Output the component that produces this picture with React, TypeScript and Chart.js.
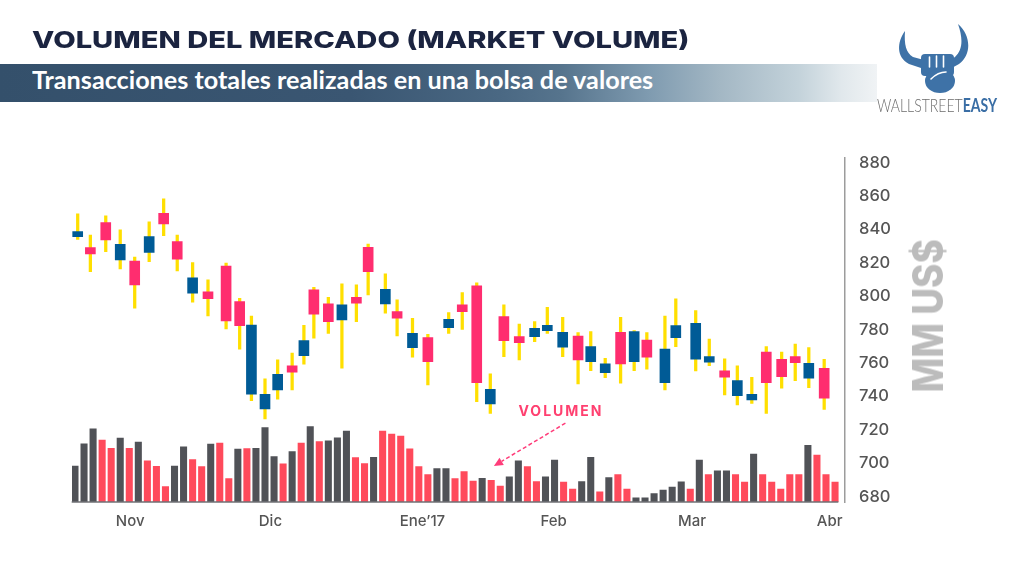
import React, { useEffect, useLayoutEffect, useRef } from 'react';
import { Chart, registerables } from 'chart.js';

Chart.register(...registerables);

// ---------- DATA ----------
const monthLabels = ['Nov', 'Dic', 'Ene’17', 'Feb', 'Mar', 'Abr'];
const monthTickPos = [6.1, 21.6, 38.4, 52.9, 68.2, 83.4];
const priceTicks = [680, 700, 720, 740, 760, 780, 800, 820, 840, 860, 880];

const candleX = [0.3, 1.7, 3.4, 5.0, 6.6, 8.2, 9.8, 11.3, 13.0, 14.7,
  16.7, 18.2, 19.5, 21.0, 22.4, 24.0, 25.3, 26.4, 28.0, 29.5,
  31.1, 32.4, 34.3, 35.6, 37.3, 39.0, 41.3, 42.8, 44.4, 45.9,
  47.4, 49.1, 50.8, 52.2, 53.9, 55.6, 57.0, 58.6, 60.3, 61.8,
  63.2, 65.2, 66.4, 68.6, 70.1, 71.8, 73.2, 74.8, 76.4, 78.1,
  79.6, 81.1, 82.8];
const candleOpen = [835.7, 829.1, 844.1, 821.7, 821.1, 826.3, 849.7, 832.7, 801.8, 802.6,
  818.1, 796.8, 741.3, 732.5, 743.9, 758.4, 764.4, 803.8, 795.4, 785.8,
  799.4, 829.3, 795.4, 790.8, 769.2, 775.2, 781.2, 794.8, 806.2, 735.5,
  787.8, 775.8, 775.8, 779.4, 769.5, 776.2, 760.8, 754.3, 778.4, 760.8,
  773.8, 748.3, 775.2, 762.3, 760.5, 755.3, 740.5, 737.9, 766.5, 762.3,
  763.8, 750.9, 756.9];
const candleClose = [838.7, 825.3, 833.7, 831.1, 806.8, 835.7, 843.3, 822.2, 811.1, 798.6,
  785.2, 782.4, 782.8, 741.3, 753.3, 754.5, 773.4, 789.2, 784.8, 794.8,
  795.8, 814.7, 804.2, 786.8, 777.8, 760.8, 786.2, 790.8, 748.3, 744.3,
  773.4, 772.2, 780.8, 782.6, 778.4, 761.9, 769.8, 759.5, 759.5, 778.8,
  763.5, 768.3, 782.4, 783.8, 763.8, 751.5, 749.5, 741.3, 748.3, 751.9,
  760.2, 759.9, 738.9];
const candleHigh = [849.3, 836.7, 848.1, 839.7, 823.4, 844.5, 858.3, 836.7, 820.1, 809.8,
  819.8, 798.8, 788.2, 750.5, 761.9, 765.9, 782.6, 805.4, 799.4, 807.4,
  806.8, 831.3, 813.4, 797.8, 786.8, 777.2, 790.2, 802.2, 808.1, 753.5,
  794.8, 783.4, 784.8, 793.3, 787.4, 778.2, 778.8, 762.9, 787.4, 779.5,
  778.2, 788.2, 798.4, 791.4, 774.3, 762.5, 758.3, 751.5, 769.8, 766.5,
  771.4, 769.2, 762.3];
const candleLow = [834.1, 814.7, 826.7, 816.3, 792.8, 820.7, 836.3, 815.1, 796.4, 788.2,
  780.4, 768.3, 737.5, 726.5, 738.3, 743.9, 759.3, 774.9, 777.8, 756.9,
  784.8, 800.8, 789.8, 776.2, 763.5, 746.9, 777.8, 780.2, 736.9, 729.9,
  763.8, 761.9, 772.8, 777.8, 763.8, 747.5, 755.4, 751.3, 747.9, 755.4,
  756.3, 743.9, 769.8, 755.3, 758.4, 740.9, 734.9, 735.9, 729.9, 744.9,
  749.5, 745.3, 732.3];

const volume = [12.0, 19.4, 24.4, 20.6, 17.9, 21.3, 17.9, 20.0, 13.7, 11.9,
  5.1, 12.0, 18.4, 14.1, 11.8, 19.3, 19.6, 7.8, 17.6, 17.8,
  17.9, 24.8, 15.1, 12.7, 16.8, 19.6, 25.1, 20.1, 20.4, 21.4,
  23.6, 14.8, 12.8, 14.9, 23.6, 22.6, 22.0, 17.7, 11.8, 9.1,
  11.1, 11.1, 7.8, 10.1, 7.0, 7.9, 7.2, 5.3, 8.4, 13.7,
  11.8, 6.8, 8.4, 14.0, 6.6, 4.3, 6.8, 14.9, 3.4, 8.1,
  9.1, 4.3, 1.4, 1.4, 2.8, 4.0, 5.0, 6.7, 4.3, 14.0,
  9.1, 10.4, 10.4, 9.1, 6.6, 16.0, 9.1, 6.6, 4.3, 9.1,
  9.1, 18.9, 15.6, 9.1, 6.6];
// g = grey bar, r = red bar
const volumeSide = ('gggrrgrgrr' + 'rggrrgrrgr' + 'gggrgrgrgg' + 'grrgrrrrrr' + 'ggrrrgrrgg' +
  'rrggrrggrg' + 'rrggggggrg' + 'rggrrgrrrr' + 'rgrrr').split('');

const volumenLabel = { text: 'VOLUMEN', x: 53.6, y: 730.9 };
const volumenArrow = { fromX: 54.2, fromY: 724.0, toX: 46.3, toY: 698.4 };

// ---------- STYLE ----------
const UP = '#005b96';
const DOWN = '#ff2d6f';
const WICK = '#ffdf00';
const VOL_GREY = '#505257';
const VOL_RED = '#ff4a5b';

function FitText({ width, style, children }: { width: number; style: React.CSSProperties; children: React.ReactNode }) {
  const ref = useRef<HTMLSpanElement>(null);
  useLayoutEffect(() => {
    const fit = () => {
      const el = ref.current;
      if (!el) return;
      el.style.transform = 'none';
      const w = el.offsetWidth;
      if (w > 0) el.style.transform = `scaleX(${width / w})`;
    };
    fit();
    if ((document as any).fonts && (document as any).fonts.ready) (document as any).fonts.ready.then(fit);
  }, [width]);
  return (
    <div style={{ width, whiteSpace: 'nowrap', lineHeight: 1 }}>
      <span ref={ref} style={{ display: 'inline-block', transformOrigin: '0 0', whiteSpace: 'nowrap', lineHeight: 1, ...style }}>
        {children}
      </span>
    </div>
  );
}

const overlayPlugin = {
  id: 'overlay',
  afterDatasetsDraw(chart: any) {
    const { ctx, chartArea } = chart;
    const x = chart.scales.x;
    const y = chart.scales.y;
    ctx.save();
    // x baseline under the volume bars
    const x0 = x.getPixelForValue(0) - 3.3;
    const x1 = x.getPixelForValue(volume.length - 1) + 3.3;
    ctx.strokeStyle = '#6f7074';
    ctx.lineWidth = 1.4;
    ctx.beginPath();
    ctx.moveTo(x0, chartArea.bottom);
    ctx.lineTo(x1, chartArea.bottom);
    ctx.stroke();

    // VOLUMEN label
    ctx.font = '700 14px Inter, "Open Sans", sans-serif';
    (ctx as any).letterSpacing = '2px';
    ctx.fillStyle = '#ff4070';
    ctx.textAlign = 'center';
    ctx.textBaseline = 'middle';
    ctx.fillText(volumenLabel.text, x.getPixelForValue(volumenLabel.x) + 1, y.getPixelForValue(volumenLabel.y));
    (ctx as any).letterSpacing = '0px';

    // dashed arrow
    const sx = x.getPixelForValue(volumenArrow.fromX);
    const sy = y.getPixelForValue(volumenArrow.fromY);
    const ex = x.getPixelForValue(volumenArrow.toX);
    const ey = y.getPixelForValue(volumenArrow.toY);
    const ang = Math.atan2(ey - sy, ex - sx);
    const headLen = 9;
    const bx = ex - Math.cos(ang) * headLen;
    const by = ey - Math.sin(ang) * headLen;
    ctx.strokeStyle = '#ff3d7a';
    ctx.fillStyle = '#ff3d7a';
    ctx.lineWidth = 1.5;
    ctx.setLineDash([4, 2.5]);
    ctx.beginPath();
    ctx.moveTo(sx, sy);
    ctx.lineTo(bx, by);
    ctx.stroke();
    ctx.setLineDash([]);
    const hw = 4.2;
    ctx.beginPath();
    ctx.moveTo(ex, ey);
    ctx.lineTo(bx + Math.sin(ang) * hw, by - Math.cos(ang) * hw);
    ctx.lineTo(bx - Math.sin(ang) * hw, by + Math.cos(ang) * hw);
    ctx.closePath();
    ctx.fill();
    ctx.restore();
  },
};

export default function App() {
  const canvasRef = useRef<HTMLCanvasElement>(null);

  useEffect(() => {
    const canvas = canvasRef.current;
    if (!canvas) return;
    const bodies = candleX.map((cx, i) => ({ x: cx, y: [candleOpen[i], candleClose[i]] }));
    const wicks = candleX.map((cx, i) => ({ x: cx, y: [candleLow[i], candleHigh[i]] }));
    const bodyColors = candleX.map((_, i) => (candleClose[i] >= candleOpen[i] ? UP : DOWN));
    const vols = volume.map((v, i) => ({ x: i, y: v }));
    const volColors = volumeSide.map((s) => (s === 'g' ? VOL_GREY : VOL_RED));

    const chart = new Chart(canvas, {
      type: 'bar',
      data: {
        datasets: [
          {
            label: 'Cuerpo',
            data: bodies as any,
            backgroundColor: bodyColors,
            borderWidth: 0,
            barThickness: 10,
            stack: 'all',
            yAxisID: 'y',
            order: 0,
          },
          {
            label: 'Mecha',
            data: wicks as any,
            backgroundColor: WICK,
            borderWidth: 0,
            barThickness: 2.6,
            stack: 'all',
            yAxisID: 'y',
            order: 1,
          },
          {
            label: 'Volumen',
            data: vols as any,
            backgroundColor: volColors,
            borderWidth: 0,
            barThickness: 6.4,
            stack: 'all',
            yAxisID: 'yVol',
            order: 2,
          },
        ],
      },
      options: {
        animation: false,
        responsive: false,
        maintainAspectRatio: false,
        layout: { padding: { left: 72, right: 119, top: 157.3, bottom: 36 } },
        plugins: { legend: { display: false }, tooltip: { enabled: false } },
        scales: {
          x: {
            type: 'linear',
            min: -0.33,
            max: 85.1,
            offset: false,
            grid: { display: false, drawTicks: false },
            border: { display: false },
            afterBuildTicks: (s: any) => {
              s.ticks = monthTickPos.map((v) => ({ value: v }));
            },
            afterFit: (s: any) => {
              s.height = 40;
            },
            ticks: {
              autoSkip: false,
              maxRotation: 0,
              minRotation: 0,
              padding: 10,
              color: '#555555',
              font: { family: 'Inter, "Open Sans", sans-serif', size: 15, weight: '500' as any },
              callback: (_v: any, i: number) => monthLabels[i],
            },
          },
          y: {
            type: 'linear',
            position: 'right',
            min: 676.8,
            max: 883.2,
            stacked: false,
            grid: { display: false, drawTicks: false },
            border: { display: true, color: '#9c9c9c', width: 1.5 },
            afterBuildTicks: (s: any) => {
              s.ticks = priceTicks.map((v) => ({ value: v }));
            },
            afterFit: (s: any) => {
              s.width = 60;
            },
            ticks: {
              padding: 14,
              color: '#555555',
              font: { family: 'Inter, "Open Sans", sans-serif', size: 16.5, weight: '500' as any },
            },
          },
          yVol: {
            type: 'linear',
            display: false,
            min: 0,
            max: 114.9,
            stacked: false,
          },
        },
      },
      plugins: [overlayPlugin],
    } as any);
    return () => chart.destroy();
  }, []);

  return (
    <div style={{ position: 'fixed', left: 0, top: 0, width: 1024, height: 578, background: '#ffffff', overflow: 'hidden' }}>
      <canvas ref={canvasRef} width={1024} height={578} style={{ position: 'absolute', left: 0, top: 0, width: 1024, height: 578 }} />

      {/* Title */}
      <div style={{ position: 'absolute', left: 31.7, top: 29.4 }}>
        <FitText width={658} style={{ fontFamily: 'Inter, "Open Sans", sans-serif', fontWeight: 800, fontSize: 23, color: '#1b2440' }}>
          VOLUMEN DEL MERCADO (MARKET VOLUME)
        </FitText>
      </div>

      {/* Banner */}
      <div
        style={{
          position: 'absolute', left: 0, top: 64, width: 877, height: 38,
          background: 'linear-gradient(90deg, #34506b 0%, #3a5672 40%, #4a6883 57%, #56748d 64%, #7f9bb0 74%, #a3b7c4 82%, #c3d2da 91%, #e1e8ec 96%, #f0f3f5 100%)',
        }}
      />
      <div style={{ position: 'absolute', left: 31.7, top: 67.7 }}>
        <FitText width={621.6} style={{ fontFamily: 'Lato, "Open Sans", sans-serif', fontWeight: 700, fontSize: 24, color: '#ffffff' }}>
          Transacciones totales realizadas en una bolsa de valores
        </FitText>
      </div>

      {/* Logo */}
      <svg width={1024} height={140} style={{ position: 'absolute', left: 0, top: 0 }}>
        <g fill="#3e72a7">
          <path d="M905 31 C897 42 896 57 909 64 L924 69 L924 60 L913 57 C906 53 904 44 905 31 Z" />
          <path d="M958 24 C971 35 972 55 959 64 L950 69 L950 60 L955 57 C963 50 963 38 958 24 Z" />
          <rect x={921} y={54} width={33} height={22} rx={4} />
          <ellipse cx={940} cy={81} rx={15} ry={12} />
        </g>
        <g stroke="#ffffff" strokeWidth={1.6} fill="none" strokeLinecap="round">
          <line x1={929.5} y1={57} x2={929.5} y2={67} />
          <line x1={936.5} y1={56} x2={936.5} y2={67} />
          <line x1={943.5} y1={56} x2={943.5} y2={67} />
          <path d="M931 79 Q938 72 946 72" />
        </g>
      </svg>
      <div style={{ position: 'absolute', left: 876.7, top: 95.7 }}>
        <FitText width={120} style={{ fontFamily: 'Lato, "Open Sans", sans-serif', fontSize: 18 }}>
          <span style={{ fontWeight: 300, color: '#6d6d6d' }}>WALLSTREET</span>
          <span style={{ fontWeight: 700, color: '#3a6ea5' }}>EASY</span>
        </FitText>
      </div>

      {/* Y axis title */}
      <div style={{ position: 'absolute', left: 927.5, top: 315.5, transform: 'translate(-50%, -50%) rotate(-90deg)' }}>
        <FitText width={153} style={{ fontFamily: 'Inter, "Open Sans", sans-serif', fontWeight: 800, fontSize: 42, color: '#bcbcbc' }}>
          MM US$
        </FitText>
      </div>
    </div>
  );
}
